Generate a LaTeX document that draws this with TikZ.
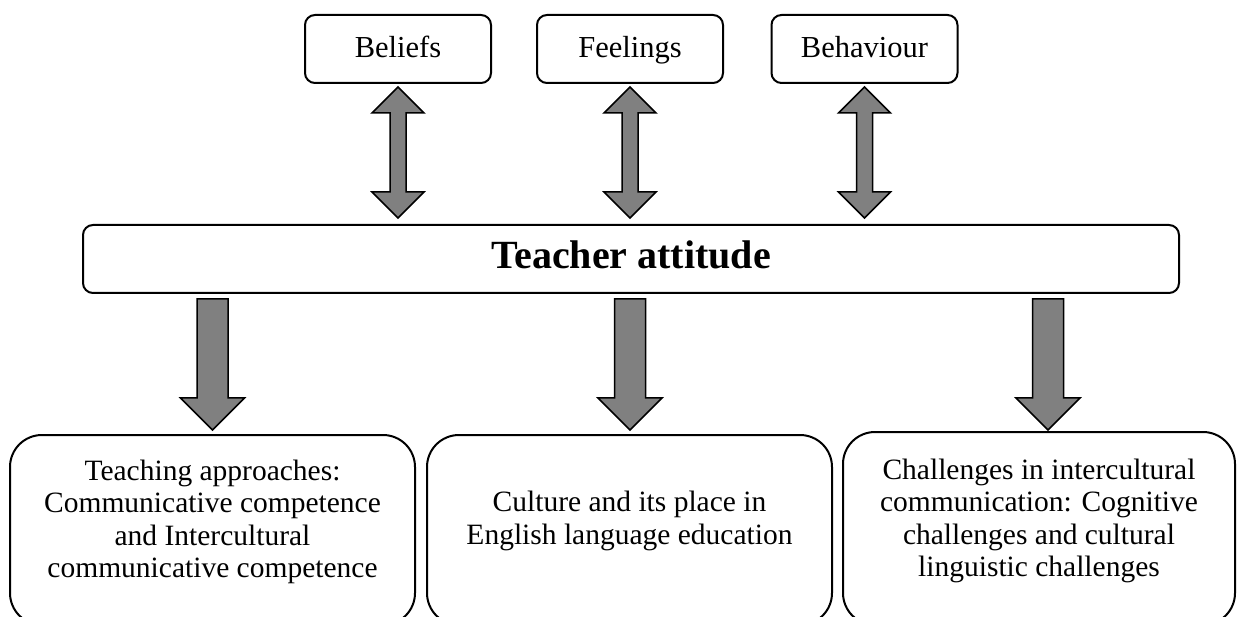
\documentclass[tikz,border=0pt]{standalone}
\usepackage{fontspec}
\setmainfont{Liberation Serif}
\usetikzlibrary{calc}
\definecolor{arrowgray}{RGB}{128,128,128}
\begin{document}
\begin{tikzpicture}[x=1pt,y=-1pt,
  tbox/.style={draw, line width=2pt, rounded corners=10pt, minimum width=186pt, minimum height=68pt,
    inner sep=0pt, text height=24pt, text depth=6pt, font=\fontsize{30.5}{34}\selectfont},
  mainbox/.style={draw, line width=2pt, rounded corners=10pt, minimum width=1096pt, minimum height=68pt,
    inner sep=0pt, text height=28pt, text depth=8pt, font=\fontsize{40}{46}\selectfont\bfseries},
  bbox/.style={draw, line width=2pt, rounded corners=32pt, inner sep=0pt},
  btext/.style={align=center, inner sep=0pt, font=\fontsize{29.5}{32.5}\selectfont},
  blk/.style={draw=black, line width=1.5pt, fill=arrowgray, line join=miter}]
\clip (0,0) rectangle (1237,617);
% top boxes
\node[tbox] (t1) at (398,49) {Beliefs};
\node[tbox] (t2) at (630,49) {Feelings};
\node[tbox] (t3) at (864.5,49) {Behaviour};
% main box
\node[mainbox] (ta) at (631,259) {Teacher attitude};
% bottom boxes
\node[bbox, minimum width=405pt, minimum height=190pt] (b1) at (212.5,530) {};
\node[bbox, minimum width=405pt, minimum height=190pt] (b2) at (629.5,530) {};
\node[bbox, minimum width=392pt, minimum height=193pt] (b3) at (1039,528.5) {};
\node[btext] (b1t) at (212.5,522) {Teaching approaches:\\Communicative competence\\and Intercultural\\communicative competence};
\node[btext] (b2t) at (629.5,521) {Culture and its place in\\English language education};
\node[btext] (b3t) at (1039,521) {Challenges in intercultural\\communication: Cognitive\\challenges and cultural\\linguistic challenges};
% double arrows
\foreach \i in {1,2,3}{
  \coordinate (u\i t) at ($(t\i.south)+(0,3)$);
  \coordinate (u\i b) at ($(u\i t |- ta.north)+(0,-6)$);
  \draw[blk] (u\i t) -- ++(26,26) -- ++(-18,0) -- ($(u\i b)+(8,-26)$) -- ++(18,0) -- (u\i b)
    -- ++(-26,-26) -- ++(18,0) -- ($(u\i t)+(-8,26)$) -- ++(-18,0) -- cycle;
}
% down arrows
\coordinate (d1b) at ($(b1.north)+(0,-4)$);
\coordinate (d2b) at ($(b2.north)+(0.5,-4)$);
\coordinate (d3b) at ($(b3.north)+(9,-1)$);
\foreach \i in {1,2,3}{
  \coordinate (d\i t) at ($(d\i b |- ta.south)+(0,5)$);
  \draw[blk] ($(d\i t)+(-15.5,0)$) -- ($(d\i t)+(15.5,0)$) -- ($(d\i b)+(15.5,-32)$) -- ++(16.5,0)
    -- (d\i b) -- ++(-32,-32) -- ++(16.5,0) -- cycle;
}
\end{tikzpicture}
\end{document}
